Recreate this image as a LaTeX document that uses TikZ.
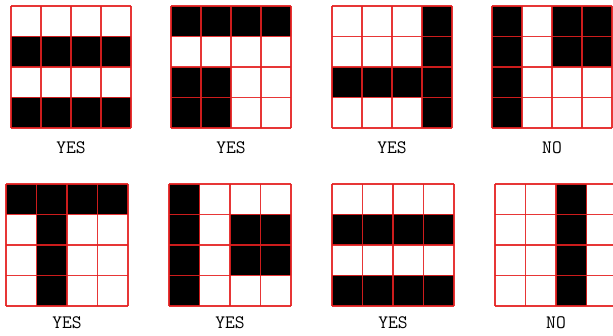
\documentclass[tikz,border=0pt]{standalone}
\definecolor{gridred}{RGB}{228,32,32}

\begin{document}
\begin{tikzpicture}[x=1pt,y=-1pt,
    cellline/.style={gridred, line width=1.4pt, opacity=0.9},
    blackcell/.style={fill=black},
    verdict/.style={font=\ttfamily\fontsize{19}{19}\selectfont, anchor=base}]
  \useasboundingbox (0,0) rectangle (613,336);
  % x / y / cell width / cell height / black cells (col/row) / label gap / answer
  \foreach \gx/\gy/\cw/\ch/\cells/\gap/\ans [count=\k] in {
      11/6/30/30.5/{0/1,1/1,2/1,3/1,0/3,1/3,2/3,3/3}/26/YES,
      171/6/30/30.5/{0/0,1/0,2/0,3/0,0/2,1/2,0/3,1/3}/26/YES,
      332/6/30/30.5/{3/0,3/1,0/2,1/2,2/2,3/2,3/3}/26/YES,
      492/6/30/30.5/{0/0,2/0,3/0,0/1,2/1,3/1,0/2,0/3}/26/NO,
      6/184/30.5/30.5/{0/0,1/0,2/0,3/0,1/1,1/2,1/3}/23/YES,
      169/184/30.5/30.5/{0/0,0/1,2/1,3/1,0/2,2/2,3/2,0/3}/23/YES,
      332/184/30.5/30.5/{0/1,1/1,2/1,3/1,0/3,1/3,2/3,3/3}/23/YES,
      495/184/30.5/30.5/{2/0,2/1,2/2,2/3}/23/NO}
  {
    \begin{scope}[shift={(\gx,\gy)}]
      \foreach \c/\r in \cells
        \fill[blackcell] (\c*\cw,\r*\ch) rectangle ++(\cw,\ch);
      \foreach \i in {0,...,4} {
        \draw[cellline] (\i*\cw,0) -- (\i*\cw,4*\ch);
        \draw[cellline] (0,\i*\ch) -- (4*\cw,\i*\ch);
      }
      \node[verdict] (ans\k) at (2*\cw,4*\ch+\gap) {\ans};
    \end{scope}
  }
\end{tikzpicture}
\end{document}
